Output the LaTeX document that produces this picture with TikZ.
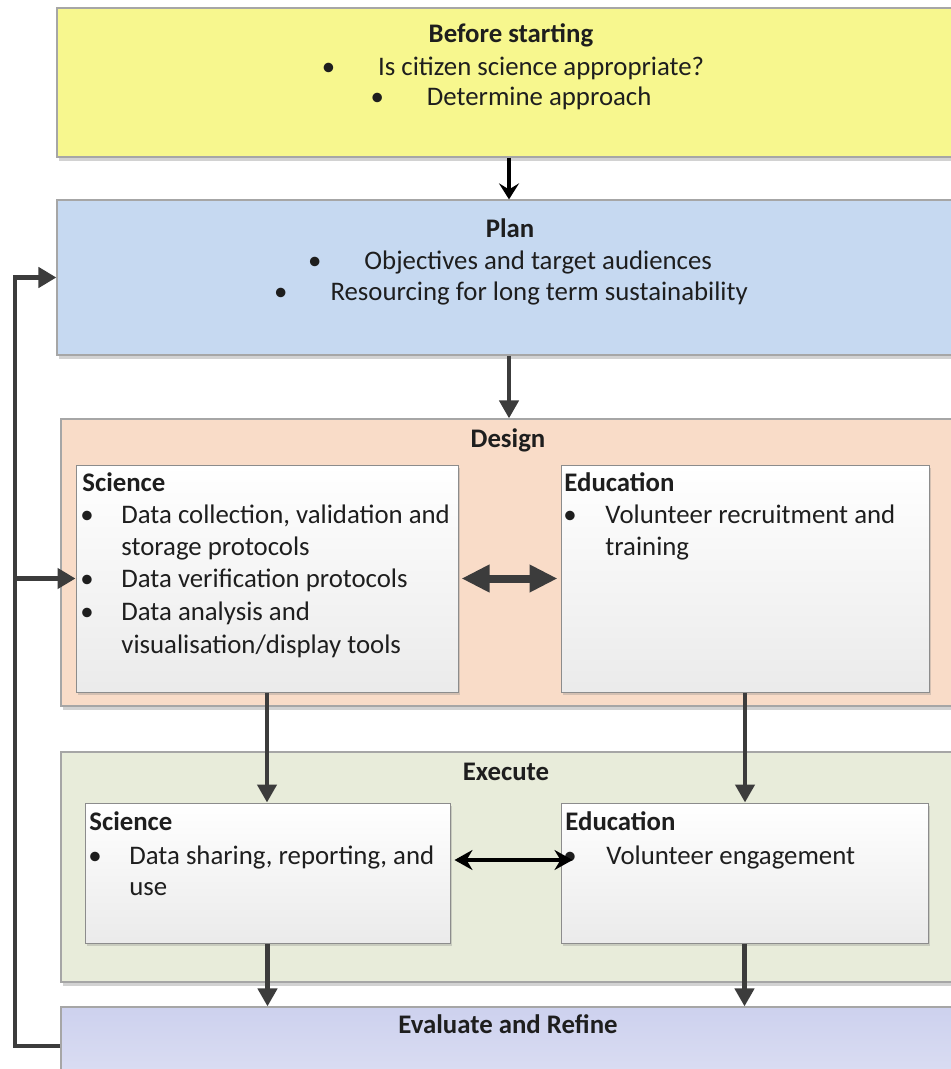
\documentclass[tikz,border=0pt]{standalone}
\usepackage{fontspec}
\setmainfont{Carlito}
\usetikzlibrary{arrows.meta,fit,shadows,calc}

\definecolor{beforefill}{HTML}{F7F78E}
\definecolor{planfill}{HTML}{C6D9F1}
\definecolor{designfill}{HTML}{F9DCC8}
\definecolor{executefill}{HTML}{E8ECDA}
\definecolor{evalfill}{HTML}{CDD1EE}
\definecolor{boxline}{HTML}{A6A6A6}
\definecolor{innerline}{HTML}{8C8C8C}
\definecolor{arrowgray}{HTML}{3C3C3C}
\definecolor{inktext}{HTML}{1E1E1E}

\tikzset{
  stage/.style={draw=boxline, line width=0.6pt, inner sep=0pt,
    drop shadow={shadow xshift=1pt, shadow yshift=-2pt, opacity=0.35}},
  panel/.style={draw=innerline, line width=0.5pt, inner sep=0pt,
    top color=white, bottom color=black!8,
    drop shadow={shadow xshift=1pt, shadow yshift=-1.5pt, opacity=0.3}},
  txt/.style={inner sep=0pt, text=inktext,
    font=\fontsize{13.4}{16}\selectfont},
  flow/.style={draw=arrowgray, line width=2.2pt,
    -{Triangle[length=9pt,width=9.5pt]}},
  startflow/.style={draw=black, line width=1.8pt,
    -{Stealth[length=8pt,width=10pt,inset=3pt]}},
  loopline/.style={draw=arrowgray, line width=2.4pt},
  bigtwoway/.style={draw=arrowgray, line width=4pt,
    {Triangle[length=14pt,width=13pt]}-{Triangle[length=14pt,width=13pt]},
    shorten <=1.5pt, shorten >=1.5pt},
  thintwoway/.style={draw=black, line width=2pt,
    {Stealth[length=9pt,width=10pt,inset=3pt]}-{Stealth[length=9pt,width=10pt,inset=3pt]}}
}

\begin{document}
\begin{tikzpicture}[x=0.5pt, y=-0.5pt]
\useasboundingbox (0,0) rectangle (951,1069);
\fill[white] (0,0) rectangle (951,1069);

% stage boxes (running off the right edge)
\node[stage, fill=beforefill, fit={(57,8)(965,157)}] (before) {};
\node[stage, fill=planfill, fit={(57,200)(965,355)}] (plan) {};
\node[stage, fill=designfill, fit={(61,419)(965,706)}] (design) {};
\node[stage, fill=executefill, fit={(61,752)(965,982)}] (execute) {};
\node[stage, top color=evalfill, bottom color=evalfill!70!white, fit={(61,1007)(965,1085)}] (evaluate) {};

% inner panels
\node[panel, fit={(76,465)(458,692)}] (dsci) {};
\node[panel, fit={(561,465)(929,692)}] (dedu) {};
\node[panel, fit={(85,803)(450,943)}] (esci) {};
\node[panel, fit={(561,803)(928,943)}] (eedu) {};

% Before starting
\node[txt, anchor=base] (beforeT) at (511,43) {\bfseries Before starting};
\node[txt, anchor=base] (before1) at (513,76) {•\hspace{21.5pt}Is citizen science appropriate?};
\node[txt, anchor=base] (before2) at (511,106) {•\hspace{21.5pt}Determine approach};

% Plan
\node[txt, anchor=base] (planT) at (510,238) {\bfseries Plan};
\node[txt, anchor=base] (plan1) at (510,270) {•\hspace{21.5pt}Objectives and target audiences};
\node[txt, anchor=base] (plan2) at (511,300) {•\hspace{21.5pt}Resourcing for long term sustainability};

% Design
\node[txt, anchor=base] (designT) at (508,447) {\bfseries Design};
\node[txt, anchor=base west] (dsciT) at (82,491) {\bfseries Science};
\node[txt, anchor=base] (dsciB1) at (87,523) {•};
\node[txt, anchor=base west] (dsci1a) at (121,523) {Data collection, validation and};
\node[txt, anchor=base west] (dsci1b) at (121,555) {storage protocols};
\node[txt, anchor=base] (dsciB2) at (87,587) {•};
\node[txt, anchor=base west] (dsci2) at (121,587) {Data verification protocols};
\node[txt, anchor=base] (dsciB3) at (87,620) {•};
\node[txt, anchor=base west] (dsci3a) at (121,620) {Data analysis and};
\node[txt, anchor=base west] (dsci3b) at (121,653) {visualisation/display tools};

\node[txt, anchor=base west] (deduT) at (564,491) {\bfseries Education};
\node[txt, anchor=base] (deduB1) at (570,523) {•};
\node[txt, anchor=base west] (dedu1a) at (605,523) {Volunteer recruitment and};
\node[txt, anchor=base west] (dedu1b) at (605,555) {training};

% Execute
\node[txt, anchor=base] (executeT) at (506,780) {\bfseries Execute};
\node[txt, anchor=base west] (esciT) at (89,830) {\bfseries Science};
\node[txt, anchor=base] (esciB1) at (95,864) {•};
\node[txt, anchor=base west] (esci1a) at (129,864) {Data sharing, reporting, and};
\node[txt, anchor=base west] (esci1b) at (129,895) {use};

\node[txt, anchor=base west] (eeduT) at (565,830) {\bfseries Education};
\node[txt, anchor=base] (eeduB1) at (570,864) {•};
\node[txt, anchor=base west] (eedu1) at (606,864) {Volunteer engagement};

% Evaluate
\node[txt, anchor=base] (evalT) at (508,1033) {\bfseries Evaluate and Refine};

% main flow
\coordinate (spine) at (509,0);
\draw[startflow] (before.south -| spine) -- (plan.north -| spine);
\draw[flow] (plan.south -| spine) -- (design.north -| spine);
\draw[flow] (dsci.south) -- (esci.north -| dsci.south);
\draw[flow] (dedu.south) -- (eedu.north -| dedu.south);
\draw[flow] (esci.south) -- (evaluate.north -| esci.south);
\draw[flow] (eedu.south) -- (evaluate.north -| eedu.south);

% two-way links between science and education
\draw[bigtwoway] (dsci.east) -- (dedu.west);
\coordinate (execlink) at (0,860);
\draw[thintwoway] ($(esci.east |- execlink)+(2pt,0)$) -- ($(eedu.west |- execlink)+(6pt,0)$);

% feedback loop from evaluation back to planning and design
\coordinate (loop) at (15,600);
\draw[loopline, -{Triangle[length=9pt,width=10pt]}] (evaluate.west) -| (loop) |- (plan.west);
\draw[loopline, -{Triangle[length=9pt,width=10pt]}] (loop |- dsci.west) -- (dsci.west);
\end{tikzpicture}
\end{document}
